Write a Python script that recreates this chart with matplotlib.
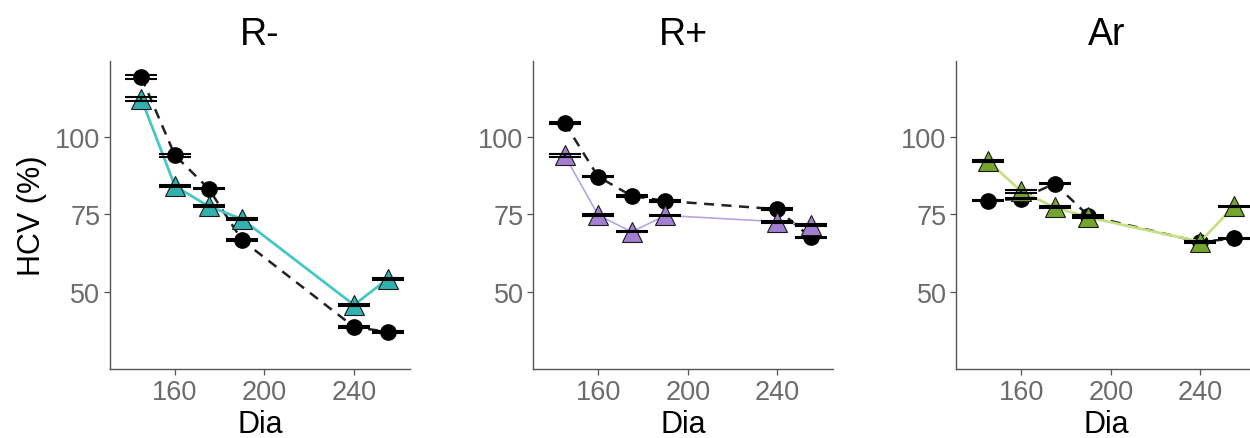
import matplotlib
matplotlib.use('Agg')
import matplotlib.pyplot as plt

plt.rcParams['font.family'] = ['Liberation Sans', 'DejaVu Sans']

# Data
dias = [145, 160, 175, 190, 240, 255]
panels = ['R-', 'R+', 'Ar']

control = {
    'R-': [119.3, 94.0, 83.3, 66.6, 38.6, 37.0],
    'R+': [104.5, 87.1, 80.9, 79.3, 76.6, 67.5],
    'Ar': [79.4, 80.0, 84.9, 74.5, 66.0, 67.2],
}
treated = {
    'R-': [112.2, 84.1, 77.6, 73.4, 45.7, 54.1],
    'R+': [94.0, 74.7, 69.3, 74.6, 72.6, 71.5],
    'Ar': [92.3, 82.4, 77.2, 74.0, 66.1, 77.6],
}
err_control = {
    'R-': [0.5, 0.5, 0.3, 0.4, 0.3, 0.2],
    'R+': [0.3, 0.2, 0.2, 0.3, 0.3, 0.2],
    'Ar': [0.2, 0.2, 0.3, 0.2, 0.2, 0.2],
}
err_treated = {
    'R-': [0.5, 0.4, 0.4, 0.3, 0.4, 0.2],
    'R+': [0.4, 0.3, 0.2, 0.3, 0.3, 0.2],
    'Ar': [0.3, 0.5, 0.3, 0.3, 0.2, 0.2],
}

fill_colors = {'R-': '#33b0b0', 'R+': '#a27fd0', 'Ar': '#74a52c'}
line_colors = {'R-': '#48c6c6', 'R+': '#b9a2e2', 'Ar': '#c7df84'}
line_widths = {'R-': 2.0, 'R+': 1.2, 'Ar': 2.0}

fig = plt.figure(figsize=(12.5, 4.39), dpi=100)
lefts = [0.088, 0.4266, 0.765]
axis_gray = '#555555'
tick_gray = '#6b6b6b'

for i, p in enumerate(panels):
    ax = fig.add_axes([lefts[i], 0.157, 0.24, 0.702])

    ax.plot(dias, control[p], color='#222222', lw=1.8, ls=(0, (4, 3)), zorder=2)
    ax.plot(dias, control[p], 'o', color='black', ms=11, zorder=3)
    ax.errorbar(dias, control[p], yerr=err_control[p], fmt='none', ecolor='black',
                elinewidth=1.2, capsize=11.5, capthick=1.5, zorder=5)

    ax.plot(dias, treated[p], color=line_colors[p], lw=line_widths[p], zorder=4)
    ax.plot(dias, treated[p], '^', markerfacecolor=fill_colors[p], markeredgecolor='#1a1a1a',
            markeredgewidth=0.8, ms=14.5, zorder=4)
    ax.errorbar(dias, treated[p], yerr=err_treated[p], fmt='none', ecolor='black',
                elinewidth=1.2, capsize=11.5, capthick=1.5, zorder=6)

    ax.set_xlim(131, 265)
    ax.set_ylim(25, 124.5)
    ax.set_xticks([160, 200, 240])
    ax.set_yticks([50, 75, 100])
    ax.set_title(p, fontsize=27, pad=12)
    ax.set_xlabel('Dia', fontsize=22, labelpad=3)
    if i == 0:
        ax.set_ylabel('HCV (%)', fontsize=22, labelpad=6)

    for side in ['top', 'right']:
        ax.spines[side].set_visible(False)
    for side in ['left', 'bottom']:
        ax.spines[side].set_color(axis_gray)
        ax.spines[side].set_linewidth(1.0)
    ax.tick_params(axis='both', colors=axis_gray, labelcolor=tick_gray,
                   labelsize=19.5, length=4, width=0.9, pad=3)

fig.savefig('out.png', dpi=100)
